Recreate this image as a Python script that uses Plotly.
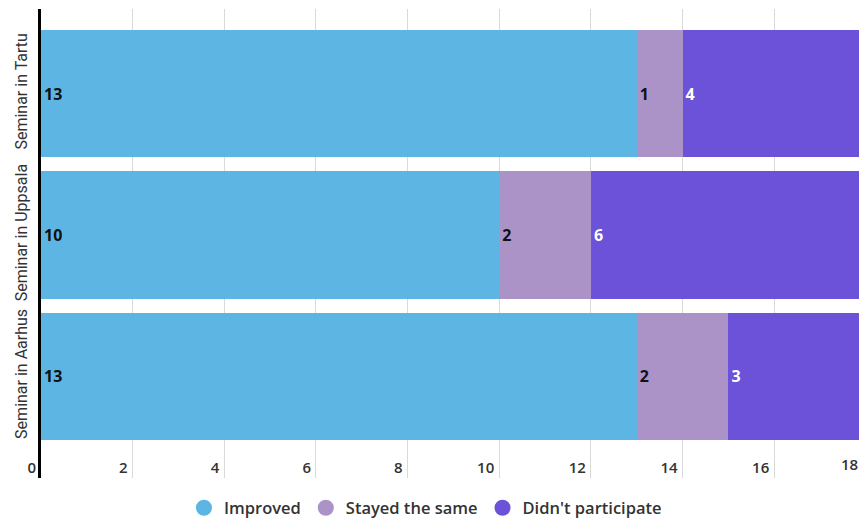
import plotly.graph_objects as go

# Seminars, listed bottom to top
seminars = ["Seminar in Aarhus", "Seminar in Uppsala", "Seminar in Tartu"]
improved = [13, 10, 13]
stayed_same = [2, 2, 1]
didnt_participate = [3, 6, 4]

series_names = ["Improved", "Stayed the same", "Didn't participate"]
series_colors = ["#5db5e3", "#ac93c7", "#6b52d9"]
label_colors = ["#111111", "#111111", "#ffffff"]

x_ticks = [0, 2, 4, 6, 8, 10, 12, 14, 16, 18]
x_range = [0, 17.85]

label_font = "Open Sans"

W, H = 859, 522
M = dict(l=41, r=0, t=9, b=44, autoexpand=False)
plot_h = H - M["t"] - M["b"]

fig = go.Figure()

for name, values, color, tcolor in zip(
    series_names, [improved, stayed_same, didnt_participate], series_colors, label_colors
):
    fig.add_trace(
        go.Bar(
            y=seminars,
            x=values,
            orientation="h",
            name=name,
            marker=dict(color=color, line=dict(width=0)),
            text=[str(v) for v in values],
            textposition="inside",
            insidetextanchor="start",
            textangle=0,
            constraintext="none",
            textfont=dict(family=label_font, size=16, color=tcolor, weight=700),
            showlegend=False,
        )
    )

# Round legend markers
for name, color in zip(series_names, series_colors):
    fig.add_trace(
        go.Scatter(
            x=[None],
            y=[None],
            mode="markers",
            name=name,
            marker=dict(symbol="circle", size=20, color=color),
            showlegend=True,
        )
    )

visible_ticks = [t for t in x_ticks if x_range[0] <= t <= x_range[1]]
edge_ticks = [t for t in x_ticks if t > x_range[1]]

tick_font = dict(family=label_font, size=15, color="#333333", weight=600)

fig.update_layout(
    barmode="stack",
    bargap=0.1,
    width=W,
    height=H,
    margin=M,
    paper_bgcolor="white",
    plot_bgcolor="white",
    xaxis=dict(
        range=x_range,
        tickmode="array",
        tickvals=visible_ticks,
        ticktext=[str(t) for t in visible_ticks],
        showgrid=True,
        gridcolor="#d9d9d9",
        gridwidth=1,
        zeroline=False,
        showline=False,
        ticks="",
        ticklabelposition="outside left",
        ticklabelstandoff=-21,
        ticklabelshift=-5,
        tickfont=tick_font,
    ),
    yaxis=dict(
        type="category",
        categoryorder="array",
        categoryarray=seminars,
        range=[-0.72, 2.6],
        showgrid=False,
        zeroline=False,
        showline=True,
        linecolor="#000000",
        linewidth=3,
        ticks="",
        tickangle=-90,
        ticklabelstandoff=5,
        tickfont=dict(family="Roboto", size=16, color="#333333"),
    ),
    legend=dict(
        orientation="h",
        traceorder="normal",
        x=0.47,
        xanchor="center",
        y=-30 / plot_h,
        yanchor="middle",
        font=dict(family=label_font, size=16.5, color="#333333", weight=600),
        itemclick=False,
    ),
)

# Tick labels beyond the visible range edge
for t in edge_ticks:
    fig.add_annotation(
        x=t / x_range[1],
        xref="paper",
        y=0,
        yref="paper",
        yanchor="bottom",
        xanchor="right",
        xshift=-6,
        yshift=2,
        text=str(t),
        showarrow=False,
        font=tick_font,
    )

fig.write_html("out.html")
